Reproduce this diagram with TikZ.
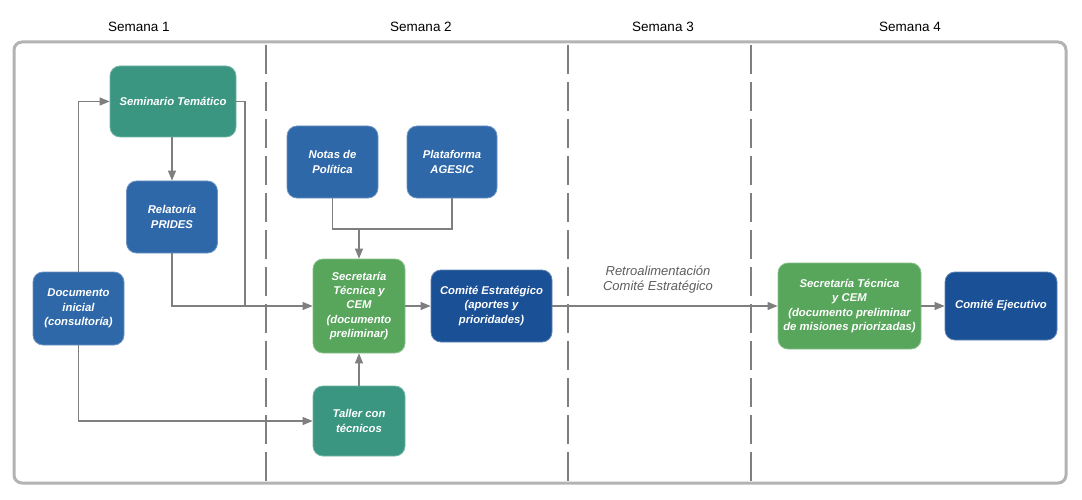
\documentclass[tikz,border=0pt]{standalone}
\usepackage{fontspec}
\setmainfont{Liberation Sans}
\usetikzlibrary{arrows.meta,calc}
\definecolor{cteal}{HTML}{3A9681}
\definecolor{cblue}{HTML}{2F68A9}
\definecolor{cdark}{HTML}{1A5095}
\definecolor{cgreen}{HTML}{58A55C}
\definecolor{cline}{HTML}{7F7F7F}
\definecolor{cframe}{HTML}{B3B3B3}
\definecolor{clabel}{HTML}{5E5E5E}
\begin{document}
\begin{tikzpicture}[x=1pt,y=-1pt,
  box/.style={rounded corners=10pt, inner sep=0pt, align=center, text=white,
    font=\fontsize{11.3}{14.3}\selectfont\bfseries\itshape, line width=0.8pt},
  tealbox/.style={box, fill=cteal, draw=cteal!70!white},
  bluebox/.style={box, fill=cblue, draw=cblue!70!white},
  darkbox/.style={box, fill=cdark, draw=cdark!70!white},
  greenbox/.style={box, fill=cgreen, draw=cgreen!70!white},
  conn/.style={draw=cline, line width=1.1pt},
  arr/.style={conn, -{Triangle[length=10pt,width=8pt]}},
  week/.style={font=\fontsize{13.5}{16}\selectfont},
  sep/.style={draw=cline, line width=1.4pt, dash pattern=on 29pt off 8pt}
]
\useasboundingbox (0,0) rectangle (1082,500);
\fill[white] (0,0) rectangle (1082,500);

% frame
\draw[cframe, line width=3pt, rounded corners=8pt] (14,42) rectangle (1066,483);

% week labels
\node[week] (w1) at (139,27) {Semana 1};
\node[week] (w2) at (421,27) {Semana 2};
\node[week] (w3) at (663,27) {Semana 3};
\node[week] (w4) at (910,27) {Semana 4};

% separators
\draw[sep] (266,45) -- (266,481);
\draw[sep] (568,45) -- (568,481);
\draw[sep] (751,45) -- (751,481);

% nodes
\node[tealbox, minimum width=126pt, minimum height=71pt] (sem) at (173,101.5) {Seminario Temático};
\node[bluebox, minimum width=91pt, minimum height=72pt] (rel) at (172,217) {Relatoría\\PRIDES};
\node[bluebox, minimum width=91pt, minimum height=72pt] (not) at (332.5,162) {Notas de\\Política};
\node[bluebox, minimum width=90pt, minimum height=72pt] (pla) at (452,162) {Plataforma\\AGESIC};
\node[bluebox, minimum width=91pt, minimum height=73pt] (doc) at (78.5,308.5) {Documento\\inicial\\(consultoría)};
\node[greenbox, minimum width=92pt, minimum height=94pt] (sec1) at (359,306) {Secretaría\\Técnica y\\CEM\\(documento\\preliminar)};
\node[darkbox, minimum width=121pt, minimum height=72pt] (ces) at (491.5,306) {Comité Estratégico\\(aportes y\\prioridades)};
\node[tealbox, minimum width=92pt, minimum height=70pt] (tal) at (359,421) {Taller con\\técnicos};
\node[greenbox, minimum width=143pt, minimum height=86pt] (sec2) at (849.5,306) {Secretaría Técnica\\y CEM\\(documento preliminar\\de misiones priorizadas)};
\node[darkbox, minimum width=112pt, minimum height=68pt] (cej) at (1001,306) {Comité Ejecutivo};

% junction coordinates
\coordinate (j1) at (245,306);
\coordinate (jn) at (359,229);

% connectors
\draw[arr] (doc.north) |- (sem.west);
\draw[arr] (rel.north |- sem.south) -- (rel.north);
\draw[conn] (sem.east) -| (j1);
\draw[arr] (rel.south) |- (sec1.west);
\draw[conn] (not.south) |- (jn) -| (pla.south);
\draw[arr] (jn) -- (sec1.north);
\draw[arr] (tal.north) -- (sec1.south);
\draw[arr] (doc.south) |- (tal.west);
\draw[arr] (sec1.east) -- (ces.west);
\draw[arr] (ces.east) -- (sec2.west);
\draw[arr] (sec2.east) -- (cej.west);

\node[align=center, text=clabel, font=\fontsize{13}{15}\selectfont\itshape] (retro) at (658,280) {Retroalimentación\\Comité Estratégico};
\end{tikzpicture}
\end{document}
